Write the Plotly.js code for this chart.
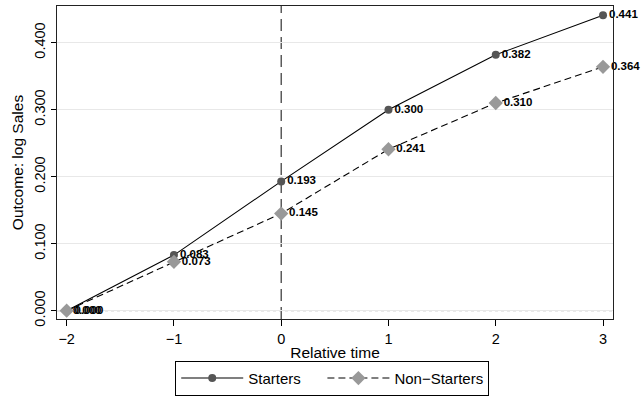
<!DOCTYPE html>
<html>
<head>
<meta charset="utf-8">
<script src="https://cdn.plot.ly/plotly-3.0.1.min.js"></script>
<style>html,body{margin:0;padding:0;background:#fff;}#chart{width:644px;height:397px;}</style>
</head>
<body>
<div id="chart"></div>
<script>
var relTime = [-2, -1, 0, 1, 2, 3];
var starters = [0.000, 0.083, 0.193, 0.300, 0.382, 0.441];
var nonStarters = [0.000, 0.073, 0.145, 0.241, 0.310, 0.364];
var yTicks = [0, 0.1, 0.2, 0.3, 0.4];
var xTicks = [-2, -1, 0, 1, 2, 3];
var xTickText = ['\u22122', '\u22121', '0', '1', '2', '3'];
var seriesNames = ['Starters', 'Non\u2212Starters'];

function fmt(v){ return v.toFixed(3); }

var font = 'Liberation Sans, Arial, Helvetica, sans-serif';
var pad = '\u00a0\u00a0\u00a0\u00a0';

var traces = [
  {
    x: relTime, y: starters, name: seriesNames[0] + pad,
    mode: 'lines+markers+text',
    line: {color: '#000', width: 1.1},
    marker: {symbol: 'circle', size: 8, color: '#555555'},
    text: starters.map(fmt), textposition: 'middle right',
    textfont: {family: font, size: 11.5, color: '#000', weight: 'bold'},
    cliponaxis: false
  },
  {
    x: relTime, y: nonStarters, name: seriesNames[1],
    mode: 'lines+markers+text',
    line: {color: '#000', width: 1.1, dash: '7px,4px'},
    marker: {symbol: 'diamond', size: 11, color: '#999999'},
    text: nonStarters.map(fmt), textposition: 'middle right',
    textfont: {family: font, size: 11.5, color: '#000', weight: 'bold'},
    cliponaxis: false
  }
];

var layout = {
  width: 644, height: 397,
  margin: {l: 57, r: 31, t: 6, b: 78},
  paper_bgcolor: '#fff', plot_bgcolor: '#fff',
  font: {family: font, size: 14.5, color: '#000'},
  showlegend: true,
  xaxis: {
    range: [-2.09, 3.093],
    tickvals: xTicks, ticktext: xTickText,
    ticks: 'outside', ticklen: 6, tickcolor: '#000', tickwidth: 1,
    showgrid: false, zeroline: false,
    showline: true, linecolor: '#222', linewidth: 1.3, mirror: true,
    title: {text: 'Relative time', font: {size: 15.5}, standoff: 2},
    tickfont: {size: 14.5}, automargin: false
  },
  yaxis: {
    range: [-0.0124, 0.4548],
    tickvals: yTicks, tickformat: '.3f',
    tickangle: -90,
    ticks: 'outside', ticklen: 5, tickcolor: '#000', tickwidth: 1,
    showgrid: true, gridcolor: '#e8e8e8', gridwidth: 1.2,
    zeroline: false,
    showline: true, linecolor: '#222', linewidth: 1.3, mirror: true,
    title: {text: 'Outcome: log Sales', font: {size: 15.5}, standoff: 4},
    tickfont: {size: 14.5}, automargin: false
  },
  shapes: [
    {type: 'line', xref: 'x', yref: 'paper', x0: 0, x1: 0, y0: 0, y1: 1,
     line: {color: '#333', width: 1.2, dash: '12px,6px'}, layer: 'below'},
    {type: 'line', xref: 'paper', yref: 'y', x0: 0, x1: 1, y0: 0, y1: 0,
     line: {color: '#888', width: 1, dash: 'dot'}, layer: 'below'}
  ],
  legend: {
    orientation: 'h',
    xref: 'paper', x: 0.495, xanchor: 'center',
    yref: 'container', y: 0.003, yanchor: 'bottom',
    bordercolor: '#000', borderwidth: 1, bgcolor: '#fff',
    font: {size: 15}, itemwidth: 62
  }
};

Plotly.newPlot('chart', traces, layout, {displayModeBar: false, staticPlot: true});
</script>
</body>
</html>
